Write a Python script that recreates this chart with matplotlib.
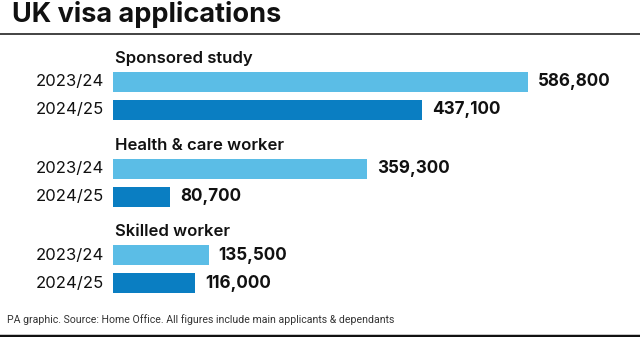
import matplotlib.pyplot as plt

# data
groups = ["Sponsored study", "Health & care worker", "Skilled worker"]
years = ["2023/24", "2024/25"]
values_2023 = [586800, 359300, 135500]
values_2024 = [437100, 80700, 116000]
colors = ["#5bbde6", "#0a7ec2"]

plt.rcParams['font.family'] = ['Inter', 'DejaVu Sans']

W, H = 640, 337
fig = plt.figure(figsize=(W / 100, H / 100), dpi=100)

# background axes in pixel coordinates for title, rules, footer
bg = fig.add_axes([0, 0, 1, 1])
bg.set_xlim(0, W)
bg.set_ylim(H, 0)
bg.axis('off')

bg.text(12, 14, "UK visa applications", fontsize=19.5, fontweight='bold',
        va='center', ha='left', color='#111111')
bg.axhline(34, color='#222222', lw=1.2)
bg.text(7, 320, "PA graphic. Source: Home Office. All figures include main applicants & dependants",
        fontsize=7.6, va='center', ha='left', color='#333333',
        family=['Roboto', 'Inter'])
bg.axhline(335.5, color='#111111', lw=2.5)

# bar axes: x maps value -> pixels, y in pixel rows
x0, x1 = 113, 528
ax = fig.add_axes([x0 / W, 0, (x1 - x0) / W, 1])
ax.set_xlim(0, max(values_2023))
ax.set_ylim(H, 0)
ax.axis('off')

group_top = 59
group_step = 86.5
bar_h = 20
for i, g in enumerate(groups):
    hy = group_top + i * group_step
    ax.text(0.005, hy, g, transform=ax.get_yaxis_transform(), fontsize=12,
            fontweight='semibold', va='center', ha='left', color='#111111')
    for j, vals in enumerate([values_2023, values_2024]):
        y = hy + 23 + j * 28
        ax.barh(y, vals[i], height=bar_h, color=colors[j], left=0)
        ax.text(vals[i] + 14000, y, f"{vals[i]:,}", fontsize=12.3,
                fontweight='bold', va='center', ha='left', color='#111111',
                clip_on=False)
        ax.text(-0.022, y, years[j], transform=ax.get_yaxis_transform(),
                fontsize=12, va='center', ha='right', color='#111111')

fig.savefig("out.png", dpi=100)
